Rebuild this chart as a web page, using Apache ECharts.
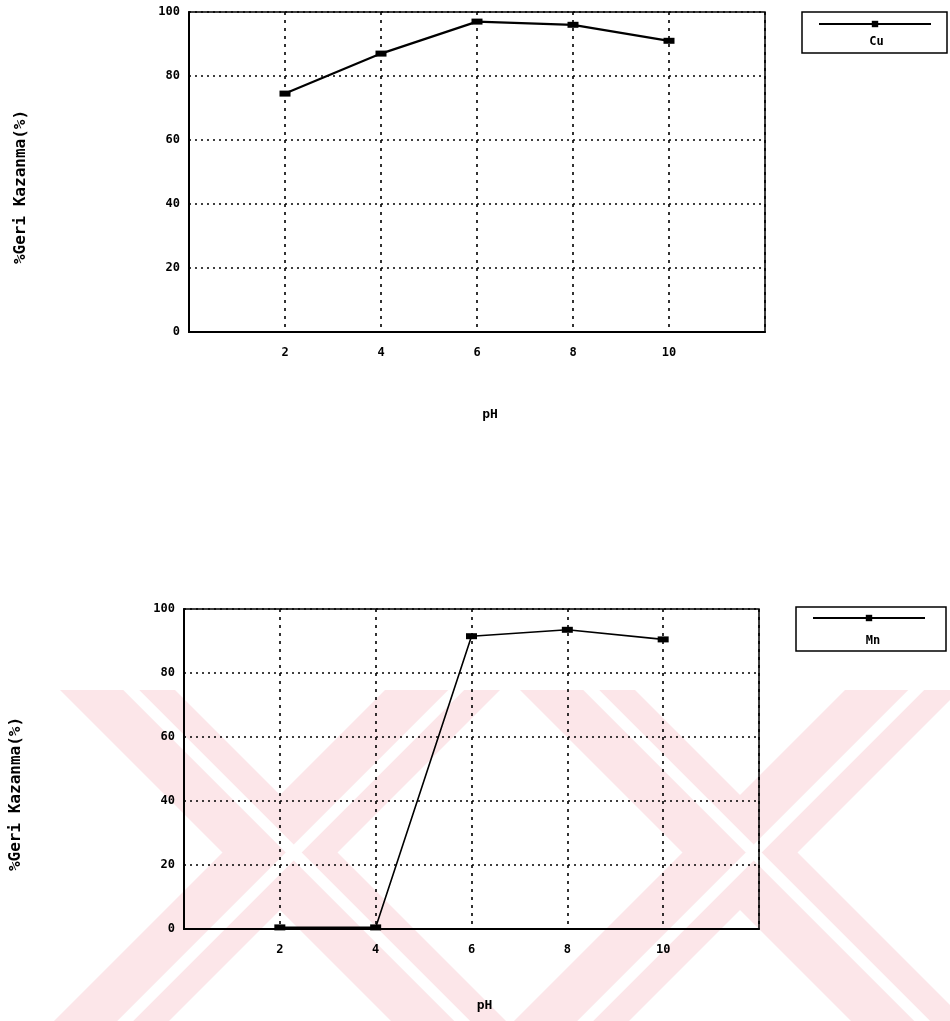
<!DOCTYPE html>
<html>
<head>
<meta charset="utf-8">
<title>pH - Geri Kazanma</title>
<script src="https://cdn.jsdelivr.net/npm/echarts@6/dist/echarts.min.js"></script>
<style>
  html, body { margin: 0; padding: 0; background: #fff; }
  #chart { width: 950px; height: 1021px; }
</style>
</head>
<body>
<div id="chart"></div>
<script>
// pH values tested and the recovery (%) measured for each metal
const phValues = [2, 4, 6, 8, 10];
const cuRecovery = [74.5, 87, 97, 96, 91];
const mnRecovery = [0.5, 0.5, 91.5, 93.5, 90.5];
const seriesNames = ['Cu', 'Mn'];
const xTitle = 'pH';
const yTitle = '%Geri Kazanma(%)';

const FONT = "'DejaVu Sans Mono', monospace";
const INK = '#000';

const chart = echarts.init(document.getElementById('chart'), null, { renderer: 'canvas' });

function pairs(ys) {
  return phValues.map((x, i) => [x, ys[i]]);
}

function xAxisFor(gridIndex, gap) {
  return {
    type: 'value', gridIndex, min: 0, max: 12, interval: 2,
    name: xTitle, nameLocation: 'middle', nameGap: gap,
    nameTextStyle: { fontFamily: FONT, fontSize: 13, fontWeight: 'bold', color: INK, padding: [0, 0, 0, 26] },
    axisLine: { show: true, lineStyle: { color: INK, width: 2 } },
    axisTick: { show: false },
    axisLabel: {
      margin: 15, fontFamily: FONT, fontSize: 12, fontWeight: 'bold', color: INK,
      formatter: v => (v === 0 || v === 12) ? '' : String(v)
    },
    splitLine: { show: true, lineStyle: { color: INK, width: 1.6, type: [3, 5] } }
  };
}

function yAxisFor(gridIndex, shift) {
  return {
    type: 'value', gridIndex, min: 0, max: 100, interval: 20,
    name: yTitle, nameLocation: 'middle', nameGap: 160,
    nameTextStyle: { fontFamily: FONT, fontSize: 16, fontWeight: 'bold', color: INK, padding: [0, shift, 0, 0] },
    axisLine: { show: true, lineStyle: { color: INK, width: 2 } },
    axisTick: { show: false },
    axisLabel: { margin: 9, fontFamily: FONT, fontSize: 12, fontWeight: 'bold', color: INK },
    splitLine: { show: true, lineStyle: { color: INK, width: 1.6, type: [2, 4] } }
  };
}

function lineSeries(name, ys, idx, width) {
  return {
    name, type: 'line', xAxisIndex: idx, yAxisIndex: idx,
    data: pairs(ys),
    symbol: 'rect', symbolSize: [11, 6],
    itemStyle: { color: INK },
    lineStyle: { color: INK, width },
    emphasis: { disabled: true },
    animation: false, z: 5
  };
}

// faint diagonal background marks in the lower half of the page
const Y0 = 690, Y1 = 1021;
function band(xTop, w, dir) {
  const dx = (Y1 - Y0) * dir;
  return [[xTop, Y0], [xTop + w, Y0], [xTop + w + dx, Y1], [xTop + dx, Y1]];
}
const pink = '#fce6e9';
const bands = [
  [60, 115, 1], [385, 115, -1], [520, 115, 1], [845, 115, -1]
];
const stripes = bands.map(([x, w, d]) => [x + w * 0.55, 16, d]);
const backdrop = [];
bands.forEach(b => backdrop.push({
  type: 'polygon', silent: true, z: -100,
  shape: { points: band(...b) }, style: { fill: pink }
}));
stripes.forEach(b => backdrop.push({
  type: 'polygon', silent: true, z: -99,
  shape: { points: band(...b) }, style: { fill: '#fff' }
}));

// legend frames and captions
function legendFrame(x, y, w, h, label, ty) {
  return [
    { type: 'rect', silent: true, z: 10, shape: { x, y, width: w, height: h },
      style: { fill: 'none', stroke: INK, lineWidth: 1.5 } },
    { type: 'text', silent: true, z: 10, x: x + w / 2 + 2, y: ty,
      style: { text: label, font: "bold 12px 'DejaVu Sans Mono'", fill: INK, align: 'center', verticalAlign: 'middle' } }
  ];
}

chart.setOption({
  backgroundColor: '#fff',
  animation: false,
  grid: [
    { left: 189, top: 12, width: 576, height: 320, show: true, borderColor: INK, borderWidth: 1.5 },
    { left: 183, top: 609, width: 576, height: 320, show: true, borderColor: INK, borderWidth: 1.5 }
  ],
  xAxis: [xAxisFor(0, 76), xAxisFor(1, 70)],
  yAxis: [yAxisFor(0, 30), yAxisFor(1, 50)],
  legend: [
    { data: [seriesNames[0]], left: 818, top: 20, itemWidth: 112, itemHeight: 8,
      formatter: () => '', selectedMode: false, padding: 0, itemGap: 0 },
    { data: [seriesNames[1]], left: 812, top: 614, itemWidth: 112, itemHeight: 8,
      formatter: () => '', selectedMode: false, padding: 0, itemGap: 0 }
  ],
  graphic: backdrop
    .concat(legendFrame(802, 12, 145, 41, seriesNames[0], 42))
    .concat(legendFrame(796, 607, 150, 44, seriesNames[1], 641)),
  series: [
    lineSeries(seriesNames[0], cuRecovery, 0, 2.2),
    lineSeries(seriesNames[1], mnRecovery, 1, 1.6)
  ]
});
</script>
</body>
</html>
